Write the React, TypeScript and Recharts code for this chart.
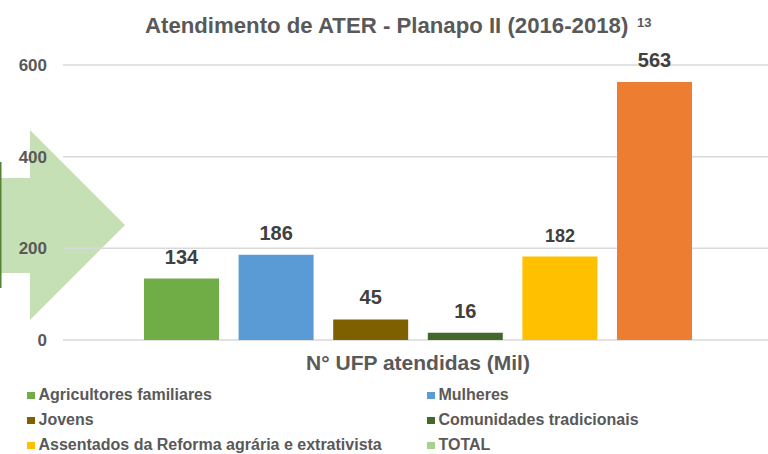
import React from 'react';
import { BarChart, Bar, XAxis, YAxis, CartesianGrid, LabelList } from 'recharts';

const categories = [
  'Agricultores familiares',
  'Mulheres',
  'Jovens',
  'Comunidades tradicionais',
  'Assentados da Reforma agrária e extrativista',
  'TOTAL',
];
const values = [134, 186, 45, 16, 182, 563];
const yTicks = [0, 200, 400, 600];
const title = 'Atendimento de ATER - Planapo II (2016-2018)';
const titleNote = '13';
const axisTitle = 'N° UFP atendidas (Mil)';

const barColors = ['#70AD47', '#5B9BD5', '#7F6000', '#43682B', '#FFC000', '#ED7D31'];
const legendColors = ['#70AD47', '#5B9BD5', '#7F6000', '#43682B', '#FFC000', '#A9D18E'];
const labelSizes = [20, 20, 20, 20, 18, 20];

const FONT = '"Liberation Sans", Arial, sans-serif';
const GREY = '#595959';

// one category, one series per group
const row: Record<string, string | number> = { name: axisTitle };
values.forEach((v, i) => (row['s' + i] = v));
const data = [row];

const legendRows = [400, 425, 450];

export default function App() {
  return (
    <div
      style={{
        position: 'absolute',
        left: 0,
        top: 0,
        width: 768,
        height: 454,
        overflow: 'hidden',
        background: '#fff',
        fontFamily: FONT,
      }}
    >
      {/* decorative arrow behind the chart */}
      <svg style={{ position: 'absolute', left: 0, top: 0 }} width={768} height={454}>
        <polygon points="0,178 30,178 30,130 125,225 30,320 30,273 0,273" fill="#C5E0B4" />
        <rect x={0} y={162} width={1.5} height={126} fill="#548235" />
      </svg>

      <div style={{ position: 'absolute', left: 0, top: 0 }}>
        <BarChart
          width={773}
          height={454}
          data={data}
          margin={{ top: 65, right: 0, bottom: 74, left: 0 }}
          barSize={75}
          barGap={19.6}
        >
          <CartesianGrid vertical={false} stroke="#D9D9D9" strokeWidth={1.5} />
          <XAxis
            dataKey="name"
            tick={false}
            axisLine={false}
            tickLine={false}
            height={40}
            label={{
              value: axisTitle,
              position: 'insideTop',
              offset: 15,
              fill: GREY,
              fontSize: 21,
              fontWeight: 'bold',
            }}
          />
          <YAxis
            domain={[0, 600]}
            ticks={yTicks}
            width={63}
            axisLine={false}
            tickLine={false}
            tickSize={0}
            tickMargin={16}
            tick={{ fill: GREY, fontSize: 17, fontWeight: 'bold' }}
          />
          {values.map((_, i) => (
            <Bar key={i} dataKey={'s' + i} name={categories[i]} fill={barColors[i]} isAnimationActive={false}>
              <LabelList
                dataKey={'s' + i}
                position="top"
                offset={15}
                fill="#404040"
                fontSize={labelSizes[i]}
                fontWeight="bold"
              />
            </Bar>
          ))}
        </BarChart>
      </div>

      {/* title and legend */}
      <svg style={{ position: 'absolute', left: 0, top: 0, pointerEvents: 'none' }} width={768} height={454}>
        <text x={145} y={33} fontSize={22.2} fontWeight="bold" fill={GREY}>
          {title}
        </text>
        <text x={637} y={27} fontSize={13} fontWeight="bold" fill={GREY}>
          {titleNote}
        </text>
        {categories.map((c, i) => {
          const col = i % 2;
          const y = legendRows[Math.floor(i / 2)];
          const sx = col ? 427 : 27;
          return (
            <g key={c}>
              <rect x={sx} y={y - 8} width={8} height={7} fill={legendColors[i]} />
              <text x={sx + 11.5} y={y} fontSize={16} fontWeight="bold" fill={GREY}>
                {c}
              </text>
            </g>
          );
        })}
      </svg>
    </div>
  );
}
